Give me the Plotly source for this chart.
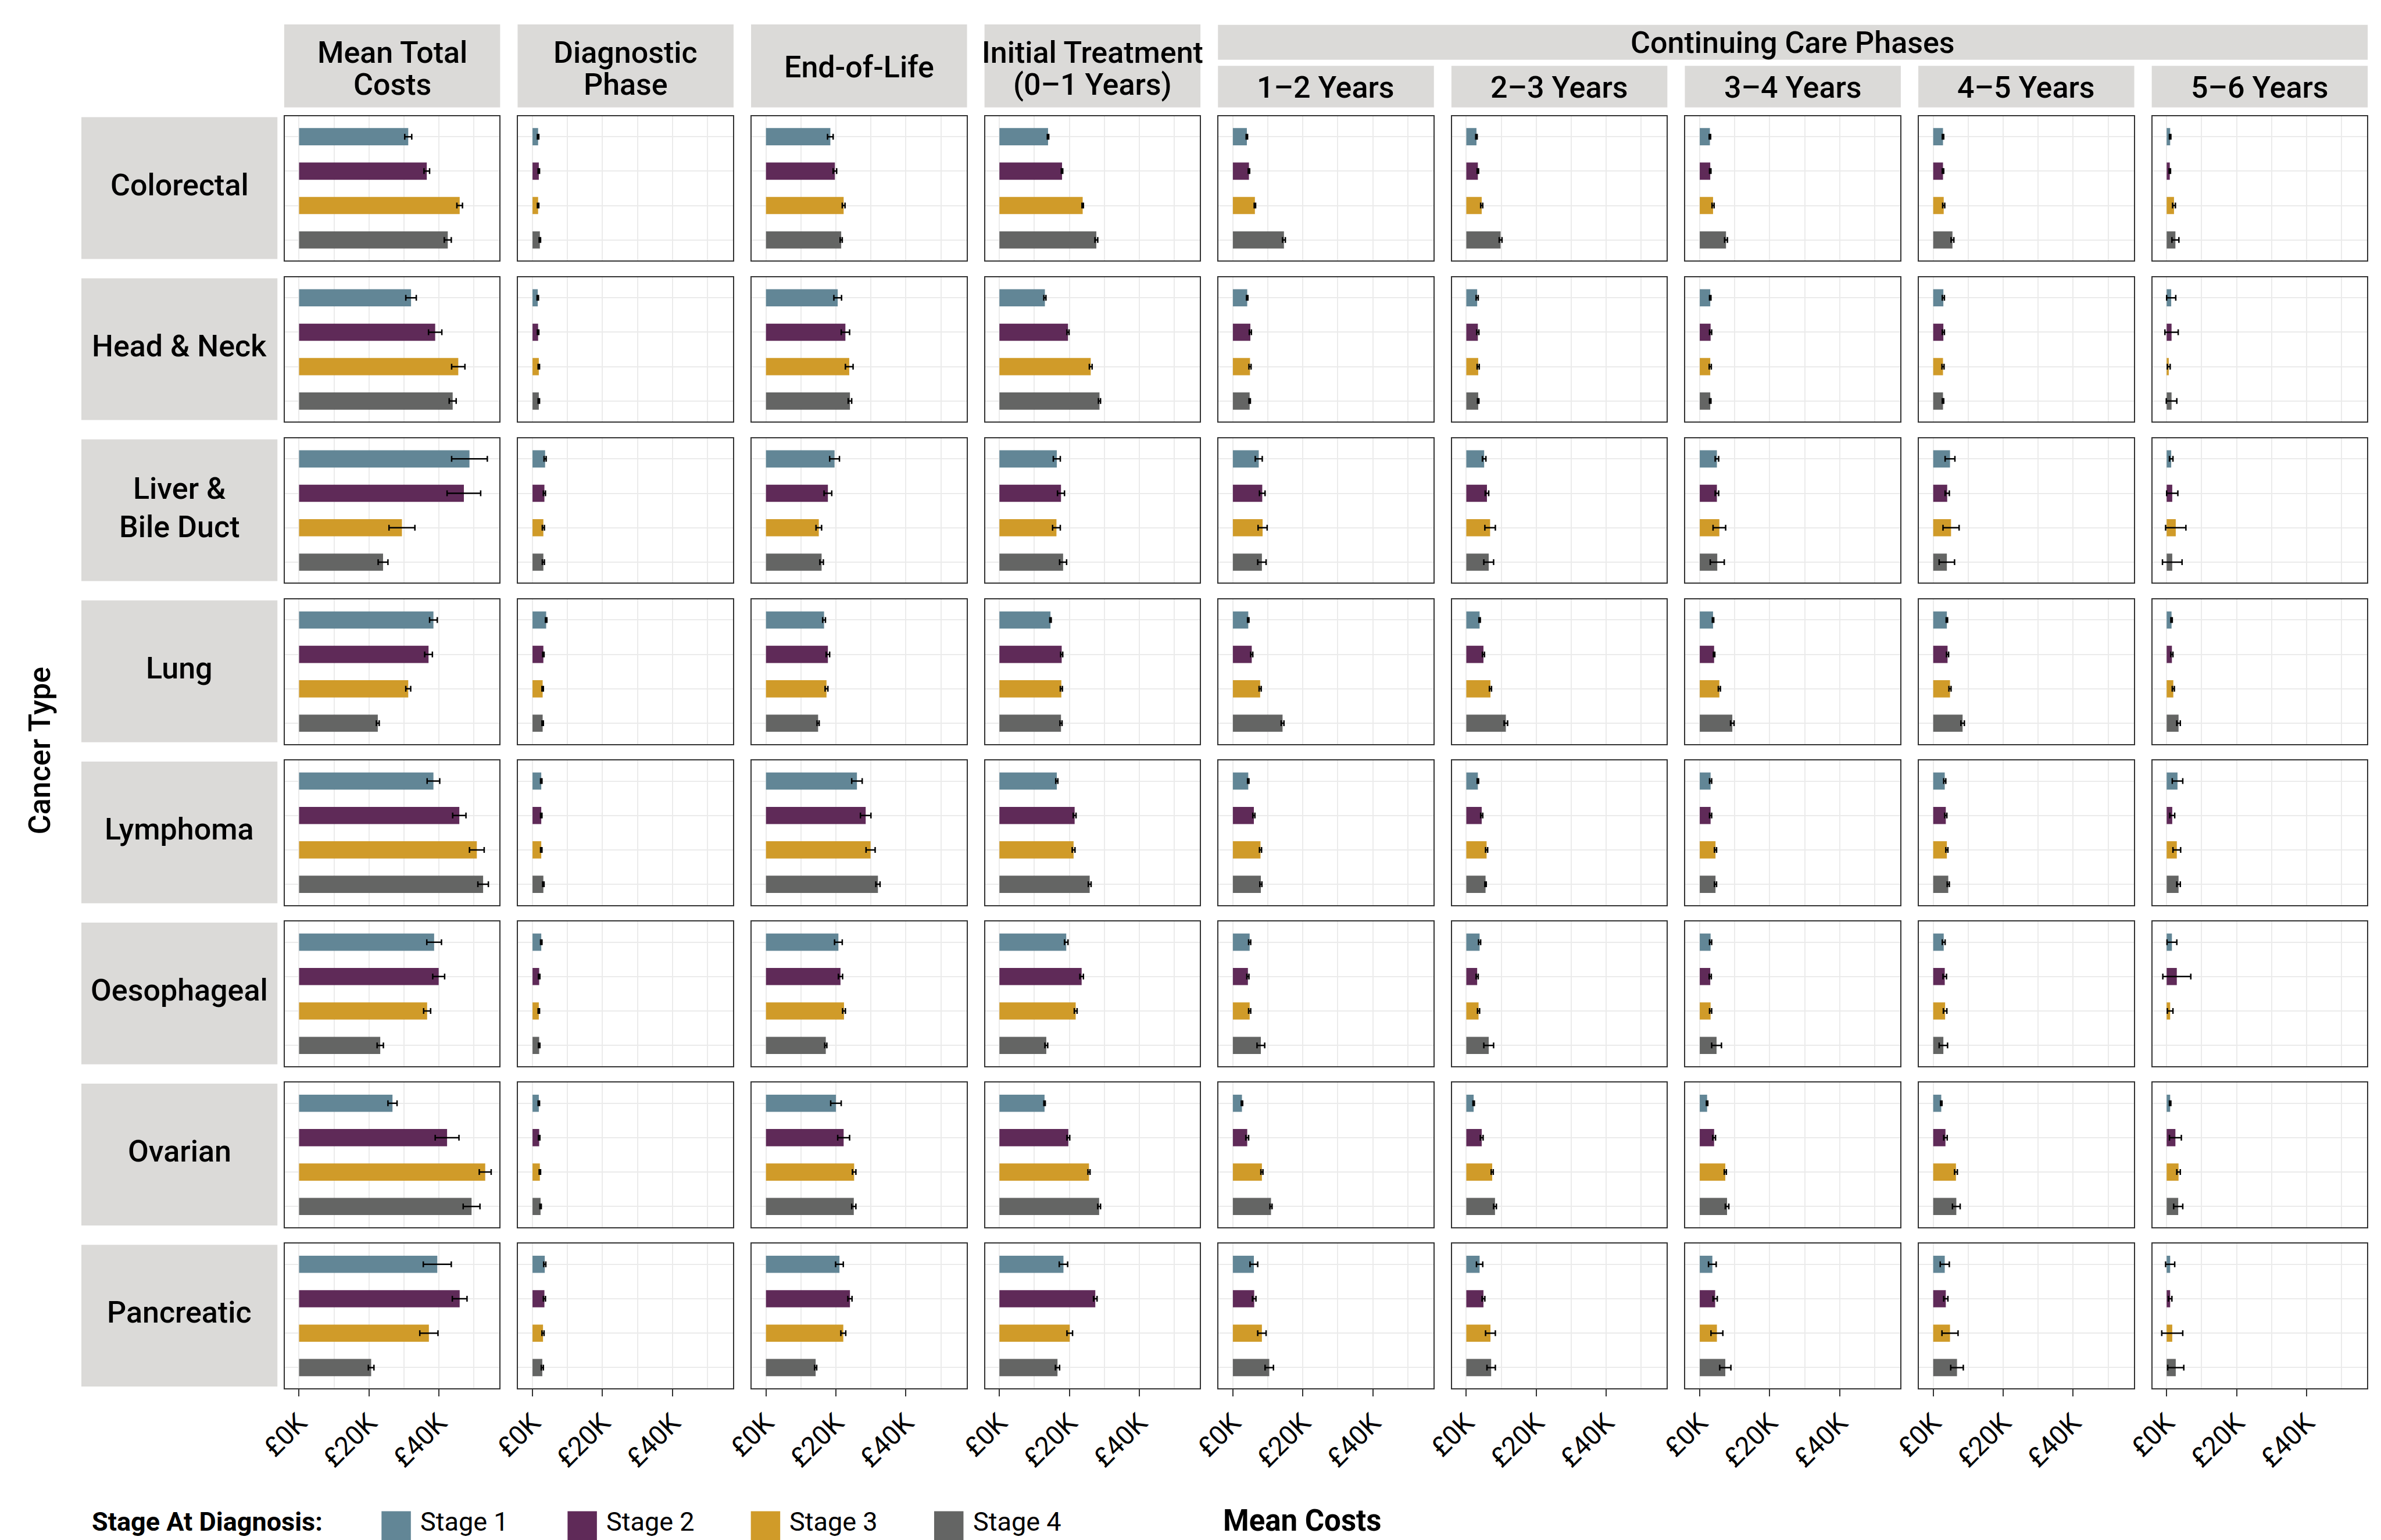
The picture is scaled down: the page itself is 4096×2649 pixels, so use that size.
import plotly.graph_objects as go

# ---------------- data (values in £ thousands) ----------------
stages = ["Stage 1", "Stage 2", "Stage 3", "Stage 4"]
stage_colors = ["#628696", "#5f2a58", "#d09b29", "#646564"]
cancers = ["Colorectal", "Head & Neck", "Liver & Bile Duct", "Lung",
           "Lymphoma", "Oesophageal", "Ovarian", "Pancreatic"]
cancer_lines = [["Colorectal"], ["Head & Neck"], ["Liver &", "Bile Duct"], ["Lung"],
                ["Lymphoma"], ["Oesophageal"], ["Ovarian"], ["Pancreatic"]]
phase_lines = [["Mean Total", "Costs"], ["Diagnostic", "Phase"], ["End-of-Life"],
               ["Initial Treatment", "(0–1 Years)"], ["1–2 Years"], ["2–3 Years"],
               ["3–4 Years"], ["4–5 Years"], ["5–6 Years"]]
group_label = "Continuing Care Phases"
tick_vals = [0, 20, 40]
tick_text = ["£0K", "£20K", "£40K"]
minor_vals = [10, 30, 50]

mean_total = [[31.2, 36.5, 45.9, 42.5], [32.0, 38.9, 45.5, 43.9], [48.7, 47.1, 29.4, 24.0],
              [38.4, 37.0, 31.2, 22.5], [38.4, 45.8, 50.8, 52.6], [38.6, 39.9, 36.6, 23.2],
              [26.7, 42.3, 53.2, 49.3], [39.5, 45.9, 37.1, 20.6]]
mean_total_err = [[1.0, 0.8, 0.8, 1.0], [1.5, 1.9, 1.9, 1.0], [5.1, 4.8, 3.7, 1.4],
                  [1.1, 1.1, 0.7, 0.4], [1.8, 1.9, 2.1, 1.5], [2.1, 1.7, 1.0, 0.9],
                  [1.3, 3.4, 1.7, 2.4], [4.0, 2.1, 2.6, 0.8]]
diagnostic = [[1.6, 1.8, 1.6, 2.1], [1.5, 1.6, 1.8, 1.8], [3.6, 3.4, 3.1, 3.1],
              [3.9, 3.1, 2.9, 2.9], [2.5, 2.5, 2.5, 3.1], [2.5, 1.9, 1.8, 1.9],
              [1.8, 1.9, 2.1, 2.3], [3.5, 3.4, 3.0, 2.8]]
diagnostic_err = [[0.2, 0.2, 0.2, 0.2], [0.2, 0.2, 0.2, 0.2], [0.3, 0.3, 0.3, 0.3],
                  [0.2, 0.2, 0.2, 0.2], [0.2, 0.2, 0.2, 0.2], [0.2, 0.2, 0.2, 0.2],
                  [0.2, 0.2, 0.2, 0.2], [0.3, 0.3, 0.3, 0.3]]
end_of_life = [[18.4, 19.7, 22.2, 21.5], [20.5, 22.7, 23.8, 24.0], [19.6, 17.7, 15.1, 15.9],
               [16.6, 17.7, 17.3, 14.9], [26.0, 28.5, 29.9, 32.0], [20.7, 21.3, 22.3, 17.1],
               [20.0, 22.2, 25.2, 25.1], [21.0, 24.0, 22.1, 14.2]]
end_of_life_err = [[0.8, 0.5, 0.4, 0.3], [1.1, 1.2, 1.1, 0.5], [1.4, 1.1, 0.8, 0.5],
                   [0.4, 0.5, 0.4, 0.3], [1.5, 1.5, 1.3, 0.6], [1.1, 0.6, 0.4, 0.3],
                   [1.5, 1.7, 0.5, 0.6], [1.1, 0.6, 0.7, 0.3]]
initial_treatment = [[13.9, 17.9, 23.8, 27.7], [13.0, 19.6, 26.1, 28.6], [16.4, 17.6, 16.3, 18.2],
                     [14.6, 17.8, 17.7, 17.6], [16.4, 21.5, 21.2, 25.8], [19.1, 23.5, 21.8, 13.4],
                     [12.9, 19.7, 25.6, 28.5], [18.3, 27.4, 20.1, 16.6]]
initial_treatment_err = [[0.2, 0.2, 0.2, 0.4], [0.3, 0.3, 0.4, 0.3], [1.0, 1.0, 1.1, 1.0],
                         [0.2, 0.3, 0.3, 0.3], [0.3, 0.4, 0.4, 0.4], [0.5, 0.5, 0.4, 0.4],
                         [0.2, 0.4, 0.3, 0.4], [1.2, 0.5, 0.8, 0.6]]
years_1_2 = [[4.0, 4.6, 6.3, 14.6], [4.1, 5.0, 4.9, 4.8], [7.4, 8.4, 8.5, 8.3],
             [4.4, 5.4, 7.8, 14.2], [4.4, 6.0, 7.9, 8.0], [4.8, 4.3, 4.8, 8.0],
             [2.6, 4.1, 8.3, 10.9], [6.0, 6.1, 8.3, 10.4]]
years_1_2_err = [[0.2, 0.2, 0.2, 0.4], [0.2, 0.3, 0.3, 0.2], [1.0, 0.8, 1.3, 1.2],
                 [0.2, 0.3, 0.3, 0.4], [0.2, 0.3, 0.3, 0.3], [0.3, 0.3, 0.3, 1.1],
                 [0.2, 0.4, 0.3, 0.3], [1.1, 0.5, 1.2, 1.2]]
years_2_3 = [[2.9, 3.3, 4.4, 9.8], [3.1, 3.3, 3.4, 3.4], [5.1, 5.9, 6.8, 6.4],
             [3.8, 4.9, 6.9, 11.3], [3.3, 4.4, 5.8, 5.5], [3.8, 3.1, 3.5, 6.4],
             [2.1, 4.4, 7.4, 8.2], [3.8, 4.9, 6.9, 7.1]]
years_2_3_err = [[0.2, 0.2, 0.3, 0.4], [0.3, 0.3, 0.3, 0.2], [0.5, 0.5, 1.5, 1.4],
                 [0.2, 0.3, 0.3, 0.5], [0.2, 0.3, 0.3, 0.2], [0.3, 0.3, 0.3, 1.4],
                 [0.2, 0.4, 0.3, 0.4], [0.9, 0.4, 1.4, 1.2]]
years_3_4 = [[2.9, 3.0, 3.8, 7.5], [3.0, 3.1, 3.0, 3.0], [4.9, 4.9, 5.6, 5.0],
             [3.8, 4.1, 5.6, 9.3], [3.1, 3.1, 4.5, 4.5], [3.1, 3.0, 3.1, 4.8],
             [2.1, 4.1, 7.3, 7.8], [3.6, 4.4, 4.9, 7.3]]
years_3_4_err = [[0.2, 0.2, 0.3, 0.4], [0.2, 0.3, 0.3, 0.2], [0.5, 0.5, 1.8, 2.0],
                 [0.2, 0.2, 0.3, 0.5], [0.3, 0.3, 0.3, 0.3], [0.3, 0.3, 0.3, 1.4],
                 [0.2, 0.4, 0.3, 0.5], [1.1, 0.6, 1.7, 1.6]]
years_4_5 = [[2.8, 2.8, 3.0, 5.5], [2.9, 2.9, 2.8, 2.8], [4.8, 4.0, 5.1, 3.9],
             [3.9, 4.1, 4.8, 8.4], [3.3, 3.6, 3.9, 4.3], [3.0, 3.3, 3.4, 2.9],
             [2.3, 3.5, 6.5, 6.6], [3.3, 3.6, 4.8, 6.8]]
years_4_5_err = [[0.2, 0.2, 0.3, 0.4], [0.3, 0.3, 0.3, 0.2], [1.4, 0.6, 2.3, 2.2],
                 [0.2, 0.3, 0.3, 0.5], [0.3, 0.3, 0.3, 0.3], [0.4, 0.5, 0.5, 1.2],
                 [0.2, 0.5, 0.4, 1.1], [1.3, 0.6, 2.3, 1.8]]
years_5_6 = [[1.0, 0.9, 2.1, 2.5], [1.3, 1.4, 0.6, 1.4], [1.3, 1.6, 2.6, 1.6],
             [1.4, 1.5, 1.9, 3.4], [3.1, 1.6, 2.9, 3.4], [1.5, 2.9, 1.0, None],
             [1.0, 2.5, 3.4, 3.3], [1.0, 1.0, 1.6, 2.6]]
years_5_6_err = [[0.2, 0.2, 0.4, 1.0], [1.3, 1.9, 0.4, 1.5], [0.5, 1.6, 2.9, 2.8],
                 [0.2, 0.3, 0.3, 0.5], [1.5, 0.7, 1.1, 0.5], [1.4, 4.0, 0.8, None],
                 [0.2, 1.7, 0.5, 1.3], [1.3, 0.5, 3.0, 2.3]]

phase_values = [mean_total, diagnostic, end_of_life, initial_treatment,
                years_1_2, years_2_3, years_3_4, years_4_5, years_5_6]
phase_errors = [mean_total_err, diagnostic_err, end_of_life_err, initial_treatment_err,
                years_1_2_err, years_2_3_err, years_3_4_err, years_4_5_err, years_5_6_err]

# ---------------- layout geometry (reference pixel space) ----------------
REF_W, REF_H = 4300.0, 2781.0
S = 4096 / 4300.0
FONT = "Roboto"
STRIP_BG = "#dbdad8"
BORDER = "#333333"
GRID = "#ebebeb"


def px(x):
    return x / REF_W


def py(y):
    return 1 - y / REF_H


PANEL_X0, PANEL_DX, PANEL_W = 514.2, 421.6, 388.0
PANEL_Y0, PANEL_DY, PANEL_H = 209.6, 290.9, 261.0
n_rows, n_cols = len(cancers), len(phase_values)

fig = go.Figure()
layout = dict(
    width=4096, height=2649,
    margin=dict(l=0, r=0, t=0, b=0, pad=0, autoexpand=False),
    paper_bgcolor="white", plot_bgcolor="white", showlegend=False,
    font=dict(family=FONT, color="black", size=round(48 * S)),
)
shapes, annotations = [], []

for r in range(n_rows):
    for c in range(n_cols):
        i = r * n_cols + c + 1
        sfx = "" if i == 1 else str(i)
        x0 = PANEL_X0 + c * PANEL_DX
        yt = PANEL_Y0 + r * PANEL_DY
        fig.add_trace(go.Bar(
            x=phase_values[c][r], y=stages, orientation="h",
            marker=dict(color=stage_colors, line=dict(width=0)), width=0.5,
            error_x=dict(type="data", array=phase_errors[c][r], color="black",
                         thickness=2.5, width=5),
            xaxis="x" + sfx, yaxis="y" + sfx, showlegend=False,
        ))
        bottom = (r == n_rows - 1)
        layout["xaxis" + sfx] = dict(
            domain=[px(x0), px(x0 + PANEL_W)], anchor="y" + sfx,
            range=[-4.1, 57.3], tickvals=tick_vals, ticktext=tick_text,
            showticklabels=bottom, ticks="outside" if bottom else "",
            ticklen=12, tickwidth=2, tickcolor=BORDER, tickangle=-45,
            tickfont=dict(family=FONT, size=round(48 * S), color="black"),
            showgrid=True, gridcolor=GRID, gridwidth=2.4, zeroline=False,
            minor=dict(tickvals=minor_vals, showgrid=True, gridcolor=GRID,
                       gridwidth=1.8, ticks=""),
            showline=True, mirror=True, linecolor=BORDER, linewidth=2.4,
            automargin=False, fixedrange=True,
        )
        layout["yaxis" + sfx] = dict(
            domain=[py(yt + PANEL_H), py(yt)], anchor="x" + sfx,
            type="category", categoryorder="array", categoryarray=stages,
            range=[3.6, -0.6], showticklabels=False, ticks="",
            showgrid=True, gridcolor=GRID, gridwidth=2.4, zeroline=False,
            showline=True, mirror=True, linecolor=BORDER, linewidth=2.4,
            automargin=False, fixedrange=True,
        )

STRIP_FONT = dict(family=FONT, size=round(55 * S), color="black", weight=500)


def strip(x0, x1, y0, y1):
    shapes.append(dict(type="rect", xref="paper", yref="paper", layer="below",
                       x0=px(x0), x1=px(x1), y0=py(y1), y1=py(y0),
                       fillcolor=STRIP_BG, line=dict(width=0)))


def label(text, x, y, font, angle=0, xanchor="center"):
    annotations.append(dict(text=text, x=px(x), y=py(y), xref="paper", yref="paper",
                            showarrow=False, xanchor=xanchor, yanchor="middle",
                            textangle=angle, font=font))


# column strips
for c in range(n_cols):
    x0 = PANEL_X0 - 1 + c * PANEL_DX
    x1 = x0 + PANEL_W + 2
    xc = (x0 + x1) / 2
    if c < 4:
        strip(x0, x1, 44, 194)
        lines = phase_lines[c]
        if len(lines) == 2:
            label(lines[0], xc, 95, STRIP_FONT)
            label(lines[1], xc, 153, STRIP_FONT)
        else:
            label(lines[0], xc, 121, STRIP_FONT)
    else:
        strip(x0, x1, 119, 194)
        label(phase_lines[c][0], xc, 158, STRIP_FONT)

# group strip over continuing care phases
g0 = PANEL_X0 - 1 + 4 * PANEL_DX
g1 = PANEL_X0 - 1 + 8 * PANEL_DX + PANEL_W + 2
strip(g0, g1, 45, 108)
label(group_label, (g0 + g1) / 2, 77, STRIP_FONT)

# row strips
for r in range(n_rows):
    yt = PANEL_Y0 + r * PANEL_DY
    strip(147, 501, yt + 2, yt + PANEL_H - 3)
    yc = yt + PANEL_H / 2
    lines = cancer_lines[r]
    if len(lines) == 2:
        label(lines[0], 324, yc - 40, STRIP_FONT)
        label(lines[1], 324, yc + 30, STRIP_FONT)
    else:
        label(lines[0], 324, yc - 6, STRIP_FONT)

# axis titles
label("Cancer Type", 72, 1356, dict(family=FONT, size=round(55 * S), color="black", weight=500), angle=-90)
label("Mean Costs", 2352, 2746, dict(family=FONT, size=round(54 * S), color="black", weight=700))

# legend (drawn manually so the keys match the reference size)
label("Stage At Diagnosis:", 164, 2748, dict(family=FONT, size=round(47 * S), color="black", weight=700),
      xanchor="left")
key_x = [689, 1025, 1356, 1687]
for k, st in enumerate(stages):
    shapes.append(dict(type="rect", xref="paper", yref="paper",
                       x0=px(key_x[k]), x1=px(key_x[k] + 53), y0=py(2781), y1=py(2729),
                       fillcolor=stage_colors[k], line=dict(width=0)))
    label(st, key_x[k] + 68, 2748, dict(family=FONT, size=round(47 * S), color="black"),
          xanchor="left")

layout["shapes"] = shapes
layout["annotations"] = annotations
fig.update_layout(**layout)
fig.write_html("out.html")
